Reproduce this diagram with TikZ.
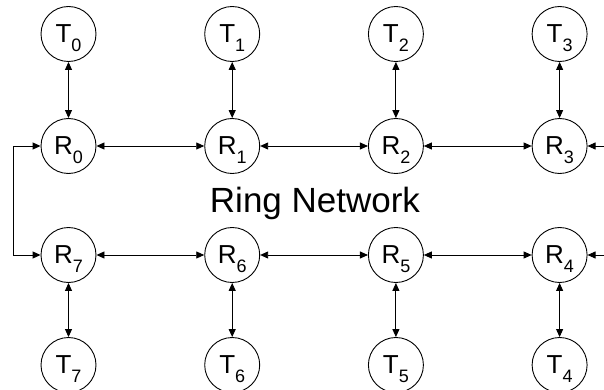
\documentclass[tikz,border=0pt]{standalone}
\usepackage{fontspec}
\setmainfont{Liberation Sans}
\usetikzlibrary{arrows.meta}
\newcommand{\nlab}[2]{#1\raisebox{-9pt}[0pt][0pt]{\fontsize{18pt}{18pt}\selectfont #2}}
\begin{document}
\begin{tikzpicture}[x=1pt,y=-1pt,
  unit/.style={draw, circle, line width=0.9pt, minimum size=55pt, inner sep=0pt,
    font=\fontsize{26pt}{26pt}\selectfont},
  link/.style={line width=0.9pt, {Triangle[length=8pt,width=7pt]}-{Triangle[length=8pt,width=7pt]}},
  inlink/.style={line width=0.9pt, -{Triangle[length=8pt,width=7pt]}}]
\useasboundingbox (0,0) rectangle (604,390);
% top row
\node[unit] (T0) at (68.5,34) {\nlab{T}{0}};
\node[unit] (T1) at (232.2,34) {\nlab{T}{1}};
\node[unit] (T2) at (395.9,34) {\nlab{T}{2}};
\node[unit] (T3) at (559.6,34) {\nlab{T}{3}};
\node[unit] (R0) at (68.5,146) {\nlab{R}{0}};
\node[unit] (R1) at (232.2,146) {\nlab{R}{1}};
\node[unit] (R2) at (395.9,146) {\nlab{R}{2}};
\node[unit] (R3) at (559.6,146) {\nlab{R}{3}};
% bottom row
\node[unit] (R7) at (68.5,255) {\nlab{R}{7}};
\node[unit] (R6) at (232.2,255) {\nlab{R}{6}};
\node[unit] (R5) at (395.9,255) {\nlab{R}{5}};
\node[unit] (R4) at (559.6,255) {\nlab{R}{4}};
\node[unit] (T7) at (68.5,365) {\nlab{T}{7}};
\node[unit] (T6) at (232.2,365) {\nlab{T}{6}};
\node[unit] (T5) at (395.9,365) {\nlab{T}{5}};
\node[unit] (T4) at (559.6,365) {\nlab{T}{4}};
\node[font=\fontsize{35pt}{35pt}\selectfont, anchor=base] (title) at (315,212) {Ring Network};
% vertical links
\foreach \i in {0,...,7} { \draw[link] (T\i) -- (R\i); }
% horizontal links
\draw[link] (R0) -- (R1);
\draw[link] (R1) -- (R2);
\draw[link] (R2) -- (R3);
\draw[link] (R7) -- (R6);
\draw[link] (R6) -- (R5);
\draw[link] (R5) -- (R4);
% right free ends
\coordinate (e3) at (604,146);
\coordinate (e4) at (604,255);
\draw[inlink] (e3) -- (R3);
\draw[inlink] (e4) -- (R4);
% left loop
\coordinate (l0) at (13,146);
\coordinate (l7) at (13,255);
\draw[link] (R0.west) -- (l0) -- (l7) -- (R7.west);
\end{tikzpicture}
\end{document}
